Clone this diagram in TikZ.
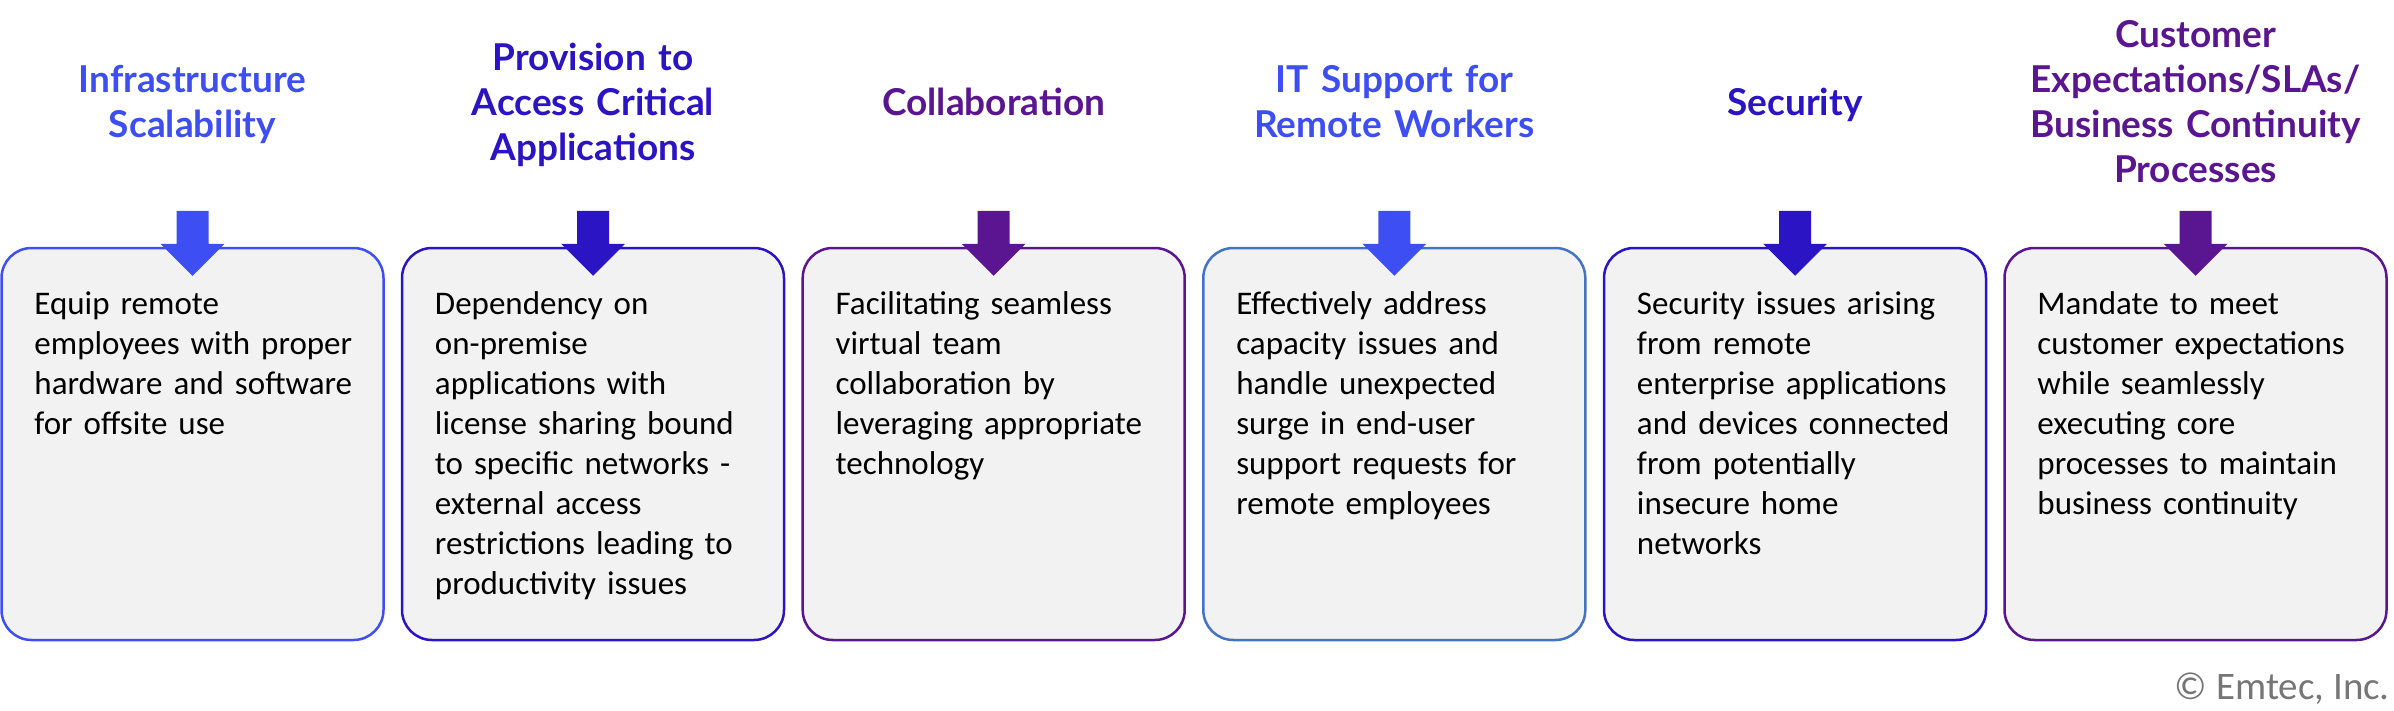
\documentclass[tikz,border=0pt]{standalone}
\usepackage{fontspec}
\setmainfont{Carlito}
\newfontfamily\titlefont{Lato}
\usetikzlibrary{calc}
\definecolor{cblue}{HTML}{3D4FF2}
\definecolor{cindigo}{HTML}{2B14C4}
\definecolor{cpurple}{HTML}{5A1690}
\definecolor{csteel}{HTML}{4472C4}
\definecolor{boxfill}{HTML}{F2F2F2}
\definecolor{crgray}{HTML}{767676}
\newcommand\blockarrow[2]{%
  \fill[#2] ($(#1.north)+(-16,-36)$) -- ++(32,0) -- ++(0,33) -- ++(16,0)
    -- ++(-32,32) -- ++(-32,-32) -- ++(16,0) -- cycle;}
\begin{document}
\begin{tikzpicture}[x=1pt,y=-1pt,
  box/.style={draw, line width=2.5pt, rounded corners=30pt, fill=boxfill,
    minimum width=382pt, minimum height=392pt, inner sep=0pt},
  body/.style={anchor=north west, inner sep=0pt, text width=360pt, align=left,
    font=\fontsize{33}{40}\selectfont},
  ttl/.style={anchor=north, inner sep=0pt, text width=398pt, align=center,
    font=\titlefont\bfseries\fontsize{37}{45}\selectfont}]
\useasboundingbox (0,0) rectangle (2394,710);

% boxes
\node[box, draw=cblue]   (b1) at (192.5,444)  {};
\node[box, draw=cindigo] (b2) at (593,444)    {};
\node[box, draw=cpurple] (b3) at (993.7,444)  {};
\node[box, draw=csteel]  (b4) at (1394.3,444) {};
\node[box, draw=cindigo] (b5) at (1795,444)   {};
\node[box, draw=cpurple] (b6) at (2195.5,444) {};

% arrows
\blockarrow{b1}{cblue}
\blockarrow{b2}{cindigo}
\blockarrow{b3}{cpurple}
\blockarrow{b4}{cblue}
\blockarrow{b5}{cindigo}
\blockarrow{b6}{cpurple}

% titles
\node[ttl, text=cblue]   (t1) at (192.5,61)  {\strut Infrastructure\\Scalability};
\node[ttl, text=cindigo] (t2) at (593,38.5)  {\strut Provision to\\Access Critical\\Applications};
\node[ttl, text=cpurple] (t3) at (993.7,83.5) {\strut Collaboration};
\node[ttl, text=cblue]   (t4) at (1394.3,61) {\strut IT Support for\\Remote Workers};
\node[ttl, text=cindigo] (t5) at (1795,83.5) {\strut Security};
\node[ttl, text=cpurple] (t6) at (2195.5,16) {\strut Customer\\Expectations/SLAs/\\Business Continuity\\Processes};

% body texts
\node[body] (d1) at ($(b1.north west)+(34,40)$) {\strut Equip remote\\employees with proper\\hardware and software\\for offsite use};
\node[body] (d2) at ($(b2.north west)+(34,40)$) {\strut Dependency on\\on-premise\\applications with\\license sharing bound\\to specific networks -\\external access\\restrictions leading to\\productivity issues};
\node[body] (d3) at ($(b3.north west)+(34,40)$) {\strut Facilitating seamless\\virtual team\\collaboration by\\leveraging appropriate\\technology};
\node[body] (d4) at ($(b4.north west)+(34,40)$) {\strut Effectively address\\capacity issues and\\handle unexpected\\surge in end-user\\support requests for\\remote employees};
\node[body] (d5) at ($(b5.north west)+(34,40)$) {\strut Security issues arising\\from remote\\enterprise applications\\and devices connected\\from potentially\\insecure home\\networks};
\node[body] (d6) at ($(b6.north west)+(34,40)$) {\strut Mandate to meet\\customer expectations\\while seamlessly\\executing core\\processes to maintain\\business continuity};

% copyright
\node[anchor=base east, inner sep=0pt, text=crgray, font=\fontsize{39}{40}\selectfont] (cr) at (2390,699) {© Emtec, Inc.};
\end{tikzpicture}
\end{document}
